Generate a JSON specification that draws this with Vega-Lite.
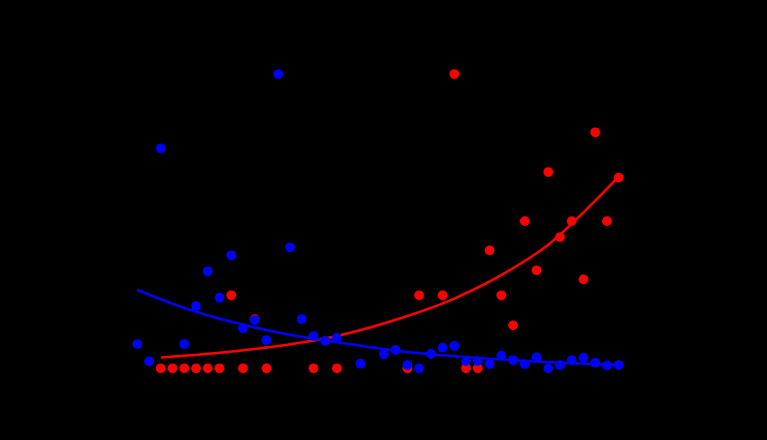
{
  "$schema": "https://vega.github.io/schema/vega-lite/v6.json",
  "width": 517,
  "height": 318,
  "autosize": {"type": "none"},
  "padding": {"left": 118, "top": 62, "right": 132, "bottom": 60},
  "background": "#000000",
  "config": {
    "view": {"stroke": "#000000"},
    "font": "Liberation Sans",
    "axis": {
      "domainColor": "#000000",
      "tickColor": "#000000",
      "labelColor": "#000000",
      "titleColor": "#000000",
      "labelFont": "Liberation Sans",
      "titleFont": "Liberation Sans",
      "labelFontSize": 18,
      "titleFontSize": 18,
      "titleFontWeight": "normal",
      "grid": false,
      "tickSize": 8
    }
  },
  "datasets": {
    "red": [
      {"year": 1970, "freq": 0}, {"year": 1971, "freq": 0}, {"year": 1972, "freq": 0},
      {"year": 1973, "freq": 0}, {"year": 1974, "freq": 0}, {"year": 1975, "freq": 0},
      {"year": 1976, "freq": 0.248}, {"year": 1977, "freq": 0}, {"year": 1978, "freq": 0.167},
      {"year": 1979, "freq": 0}, {"year": 1983, "freq": 0}, {"year": 1985, "freq": 0},
      {"year": 1991, "freq": 0}, {"year": 1992, "freq": 0.248}, {"year": 1994, "freq": 0.248},
      {"year": 1995, "freq": 1.0}, {"year": 1996, "freq": 0}, {"year": 1997, "freq": 0},
      {"year": 1998, "freq": 0.401}, {"year": 1999, "freq": 0.248}, {"year": 2000, "freq": 0.146},
      {"year": 2001, "freq": 0.5}, {"year": 2002, "freq": 0.333}, {"year": 2003, "freq": 0.667},
      {"year": 2004, "freq": 0.446}, {"year": 2005, "freq": 0.5}, {"year": 2006, "freq": 0.302},
      {"year": 2007, "freq": 0.802}, {"year": 2008, "freq": 0.5}, {"year": 2009, "freq": 0.648}
    ],
    "redfit": [
      {"year": 1970, "freq": 0.037}, {"year": 1975, "freq": 0.053}, {"year": 1980, "freq": 0.076},
      {"year": 1985, "freq": 0.11}, {"year": 1990, "freq": 0.165}, {"year": 1995, "freq": 0.237},
      {"year": 2000, "freq": 0.34}, {"year": 2003, "freq": 0.42}, {"year": 2006, "freq": 0.53},
      {"year": 2009, "freq": 0.651}
    ],
    "blue": [
      {"year": 1968, "pcb": 26.8}, {"year": 1969, "pcb": 10.0}, {"year": 1970, "pcb": 217.8},
      {"year": 1972, "pcb": 26.8}, {"year": 1973, "pcb": 63.9}, {"year": 1974, "pcb": 97.8},
      {"year": 1975, "pcb": 72.0}, {"year": 1976, "pcb": 113.4}, {"year": 1977, "pcb": 42.1},
      {"year": 1978, "pcb": 50.2}, {"year": 1979, "pcb": 30.7}, {"year": 1980, "pcb": 290.2},
      {"year": 1981, "pcb": 121.2}, {"year": 1982, "pcb": 51.2}, {"year": 1983, "pcb": 34.6},
      {"year": 1984, "pcb": 29.8}, {"year": 1985, "pcb": 32.7}, {"year": 1987, "pcb": 7.6},
      {"year": 1989, "pcb": 16.8}, {"year": 1990, "pcb": 21.0}, {"year": 1991, "pcb": 6.3},
      {"year": 1992, "pcb": 3.1}, {"year": 1993, "pcb": 17.1}, {"year": 1994, "pcb": 23.2},
      {"year": 1995, "pcb": 24.9}, {"year": 1996, "pcb": 10.2}, {"year": 1997, "pcb": 10.2},
      {"year": 1998, "pcb": 7.3}, {"year": 1999, "pcb": 15.4}, {"year": 2000, "pcb": 11.2},
      {"year": 2001, "pcb": 7.3}, {"year": 2002, "pcb": 13.9}, {"year": 2003, "pcb": 3.1},
      {"year": 2004, "pcb": 6.3}, {"year": 2005, "pcb": 11.2}, {"year": 2006, "pcb": 13.5},
      {"year": 2007, "pcb": 8.6}, {"year": 2008, "pcb": 6.0}, {"year": 2009, "pcb": 6.3}
    ],
    "bluefit": [
      {"year": 1968, "pcb": 79.5}, {"year": 1972, "pcb": 62.0}, {"year": 1976, "pcb": 48.5},
      {"year": 1980, "pcb": 38.0}, {"year": 1985, "pcb": 28.5}, {"year": 1990, "pcb": 20.3},
      {"year": 1995, "pcb": 15.0}, {"year": 2000, "pcb": 11.0}, {"year": 2005, "pcb": 8.1},
      {"year": 2009, "pcb": 6.3}
    ]
  },
  "layer": [
    {
      "layer": [
        {
          "data": {"name": "red"},
          "mark": {"type": "circle", "size": 95, "opacity": 1, "color": "#FF0000"},
          "encoding": {
            "x": {
              "field": "year", "type": "quantitative",
              "scale": {"domain": [1966.356, 2010.39], "nice": false, "zero": false},
              "axis": {"values": [1970, 1980, 1990, 2000, 2010], "format": "d", "title": null, "labelPadding": 22}
            },
            "y": {
              "field": "freq", "type": "quantitative",
              "scale": {"domain": [-0.0398, 1.0408], "nice": false, "zero": false},
              "axis": {
                "orient": "left",
                "values": [0, 0.2, 0.4, 0.6, 0.8, 1.0],
                "format": ".1f",
                "labelAngle": 270,
                "labelAlign": "center",
                "labelBaseline": "bottom",
                "labelPadding": 14,
                "title": "Frequency of reproductive failure",
                "titlePadding": 30
              }
            }
          }
        },
        {
          "data": {"name": "redfit"},
          "mark": {"type": "line", "color": "#FF0000", "strokeWidth": 2.5, "interpolate": "monotone"},
          "encoding": {
            "x": {"field": "year", "type": "quantitative"},
            "y": {"field": "freq", "type": "quantitative"}
          }
        }
      ]
    },
    {
      "layer": [
        {
          "data": {"name": "blue"},
          "mark": {"type": "circle", "size": 95, "opacity": 1, "color": "#0000FF"},
          "encoding": {
            "x": {"field": "year", "type": "quantitative"},
            "y": {
              "field": "pcb", "type": "quantitative",
              "scale": {"domain": [-8.29, 301.95], "nice": false, "zero": false},
              "axis": {
                "orient": "right",
                "values": [0, 50, 100, 200, 300],
                "labelAngle": 270,
                "labelAlign": "center",
                "labelBaseline": "top",
                "labelPadding": 40,
                "title": "PCB ng/g ww muscle",
                "titlePadding": 16
              }
            }
          }
        },
        {
          "data": {"name": "bluefit"},
          "mark": {"type": "line", "color": "#0000FF", "strokeWidth": 2.5, "interpolate": "monotone"},
          "encoding": {
            "x": {"field": "year", "type": "quantitative"},
            "y": {"field": "pcb", "type": "quantitative"}
          }
        }
      ]
    }
  ],
  "resolve": {"scale": {"y": "independent"}}
}
